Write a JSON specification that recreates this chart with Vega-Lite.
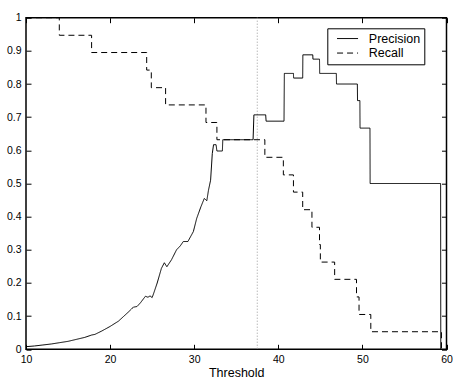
{
  "$schema": "https://vega.github.io/schema/vega-lite/v6.json",
  "width": 420.5,
  "height": 331.6,
  "autosize": {"type": "none"},
  "padding": {"left": 26, "top": 17.7, "right": 6.5, "bottom": 31.7},
  "background": "white",
  "config": {
    "view": {"stroke": "black", "strokeWidth": 1.5},
    "font": "Liberation Sans",
    "axis": {"grid": false, "domain": false, "tickColor": "black", "labelColor": "black", "titleColor": "black", "tickSize": -5, "tickWidth": 1}
  },
  "datasets": {
    "curves": [
      {"series": "Precision", "i": 0, "threshold": 10, "value": 0.008},
      {"series": "Precision", "i": 1, "threshold": 11, "value": 0.010},
      {"series": "Precision", "i": 2, "threshold": 12, "value": 0.013},
      {"series": "Precision", "i": 3, "threshold": 13, "value": 0.016},
      {"series": "Precision", "i": 4, "threshold": 14, "value": 0.020},
      {"series": "Precision", "i": 5, "threshold": 15, "value": 0.024},
      {"series": "Precision", "i": 6, "threshold": 16, "value": 0.030},
      {"series": "Precision", "i": 7, "threshold": 17, "value": 0.036},
      {"series": "Precision", "i": 8, "threshold": 17.8, "value": 0.043},
      {"series": "Precision", "i": 9, "threshold": 18.2, "value": 0.045},
      {"series": "Precision", "i": 10, "threshold": 19, "value": 0.055},
      {"series": "Precision", "i": 11, "threshold": 20, "value": 0.069},
      {"series": "Precision", "i": 12, "threshold": 21, "value": 0.085},
      {"series": "Precision", "i": 13, "threshold": 21.6, "value": 0.099},
      {"series": "Precision", "i": 14, "threshold": 22.2, "value": 0.113},
      {"series": "Precision", "i": 15, "threshold": 22.76, "value": 0.127},
      {"series": "Precision", "i": 16, "threshold": 23.2, "value": 0.129},
      {"series": "Precision", "i": 17, "threshold": 23.6, "value": 0.140},
      {"series": "Precision", "i": 18, "threshold": 24.2, "value": 0.160},
      {"series": "Precision", "i": 19, "threshold": 24.5, "value": 0.157},
      {"series": "Precision", "i": 20, "threshold": 24.75, "value": 0.161},
      {"series": "Precision", "i": 21, "threshold": 25.0, "value": 0.156},
      {"series": "Precision", "i": 22, "threshold": 25.2, "value": 0.170},
      {"series": "Precision", "i": 23, "threshold": 25.6, "value": 0.200},
      {"series": "Precision", "i": 24, "threshold": 26.1, "value": 0.244},
      {"series": "Precision", "i": 25, "threshold": 26.45, "value": 0.261},
      {"series": "Precision", "i": 26, "threshold": 26.75, "value": 0.249},
      {"series": "Precision", "i": 27, "threshold": 27.3, "value": 0.270},
      {"series": "Precision", "i": 28, "threshold": 27.9, "value": 0.300},
      {"series": "Precision", "i": 29, "threshold": 28.35, "value": 0.312},
      {"series": "Precision", "i": 30, "threshold": 28.7, "value": 0.325},
      {"series": "Precision", "i": 31, "threshold": 29.25, "value": 0.325},
      {"series": "Precision", "i": 32, "threshold": 29.9, "value": 0.355},
      {"series": "Precision", "i": 33, "threshold": 30.3, "value": 0.395},
      {"series": "Precision", "i": 34, "threshold": 30.8, "value": 0.430},
      {"series": "Precision", "i": 35, "threshold": 31.2, "value": 0.455},
      {"series": "Precision", "i": 36, "threshold": 31.5, "value": 0.448},
      {"series": "Precision", "i": 37, "threshold": 31.7, "value": 0.480},
      {"series": "Precision", "i": 38, "threshold": 31.95, "value": 0.510},
      {"series": "Precision", "i": 39, "threshold": 32.15, "value": 0.590},
      {"series": "Precision", "i": 40, "threshold": 32.3, "value": 0.617},
      {"series": "Precision", "i": 41, "threshold": 32.6, "value": 0.617},
      {"series": "Precision", "i": 42, "threshold": 32.7, "value": 0.598},
      {"series": "Precision", "i": 43, "threshold": 33.35, "value": 0.598},
      {"series": "Precision", "i": 44, "threshold": 33.4, "value": 0.632},
      {"series": "Precision", "i": 45, "threshold": 37.0, "value": 0.632},
      {"series": "Precision", "i": 46, "threshold": 37.1, "value": 0.707},
      {"series": "Precision", "i": 47, "threshold": 38.5, "value": 0.707},
      {"series": "Precision", "i": 48, "threshold": 38.55, "value": 0.688},
      {"series": "Precision", "i": 49, "threshold": 40.68, "value": 0.688},
      {"series": "Precision", "i": 50, "threshold": 40.72, "value": 0.832},
      {"series": "Precision", "i": 51, "threshold": 41.8, "value": 0.832},
      {"series": "Precision", "i": 52, "threshold": 41.82, "value": 0.818},
      {"series": "Precision", "i": 53, "threshold": 42.9, "value": 0.818},
      {"series": "Precision", "i": 54, "threshold": 42.92, "value": 0.888},
      {"series": "Precision", "i": 55, "threshold": 44.1, "value": 0.888},
      {"series": "Precision", "i": 56, "threshold": 44.12, "value": 0.875},
      {"series": "Precision", "i": 57, "threshold": 44.9, "value": 0.875},
      {"series": "Precision", "i": 58, "threshold": 44.92, "value": 0.832},
      {"series": "Precision", "i": 59, "threshold": 46.9, "value": 0.832},
      {"series": "Precision", "i": 60, "threshold": 46.92, "value": 0.800},
      {"series": "Precision", "i": 61, "threshold": 49.4, "value": 0.800},
      {"series": "Precision", "i": 62, "threshold": 49.42, "value": 0.750},
      {"series": "Precision", "i": 63, "threshold": 49.7, "value": 0.750},
      {"series": "Precision", "i": 64, "threshold": 49.72, "value": 0.667},
      {"series": "Precision", "i": 65, "threshold": 50.9, "value": 0.667},
      {"series": "Precision", "i": 66, "threshold": 50.92, "value": 0.500},
      {"series": "Precision", "i": 67, "threshold": 59.3, "value": 0.500},
      {"series": "Precision", "i": 68, "threshold": 59.32, "value": 0.0},
      {"series": "Recall", "i": 0, "threshold": 10, "value": 1.0},
      {"series": "Recall", "i": 1, "threshold": 13.96, "value": 1.0},
      {"series": "Recall", "i": 2, "threshold": 13.96, "value": 0.947},
      {"series": "Recall", "i": 3, "threshold": 17.8, "value": 0.947},
      {"series": "Recall", "i": 4, "threshold": 17.8, "value": 0.895},
      {"series": "Recall", "i": 5, "threshold": 24.35, "value": 0.895},
      {"series": "Recall", "i": 6, "threshold": 24.35, "value": 0.842},
      {"series": "Recall", "i": 7, "threshold": 24.9, "value": 0.842},
      {"series": "Recall", "i": 8, "threshold": 24.9, "value": 0.789},
      {"series": "Recall", "i": 9, "threshold": 26.6, "value": 0.789},
      {"series": "Recall", "i": 10, "threshold": 26.6, "value": 0.737},
      {"series": "Recall", "i": 11, "threshold": 31.4, "value": 0.737},
      {"series": "Recall", "i": 12, "threshold": 31.4, "value": 0.684},
      {"series": "Recall", "i": 13, "threshold": 32.7, "value": 0.684},
      {"series": "Recall", "i": 14, "threshold": 32.7, "value": 0.632},
      {"series": "Recall", "i": 15, "threshold": 38.4, "value": 0.632},
      {"series": "Recall", "i": 16, "threshold": 38.4, "value": 0.579},
      {"series": "Recall", "i": 17, "threshold": 40.6, "value": 0.579},
      {"series": "Recall", "i": 18, "threshold": 40.6, "value": 0.526},
      {"series": "Recall", "i": 19, "threshold": 41.8, "value": 0.526},
      {"series": "Recall", "i": 20, "threshold": 41.8, "value": 0.474},
      {"series": "Recall", "i": 21, "threshold": 42.9, "value": 0.474},
      {"series": "Recall", "i": 22, "threshold": 42.9, "value": 0.421},
      {"series": "Recall", "i": 23, "threshold": 44.0, "value": 0.421},
      {"series": "Recall", "i": 24, "threshold": 44.0, "value": 0.368},
      {"series": "Recall", "i": 25, "threshold": 44.9, "value": 0.368},
      {"series": "Recall", "i": 26, "threshold": 44.9, "value": 0.316},
      {"series": "Recall", "i": 27, "threshold": 45.0, "value": 0.316},
      {"series": "Recall", "i": 28, "threshold": 45.0, "value": 0.263},
      {"series": "Recall", "i": 29, "threshold": 46.7, "value": 0.263},
      {"series": "Recall", "i": 30, "threshold": 46.7, "value": 0.211},
      {"series": "Recall", "i": 31, "threshold": 49.3, "value": 0.211},
      {"series": "Recall", "i": 32, "threshold": 49.3, "value": 0.158},
      {"series": "Recall", "i": 33, "threshold": 49.6, "value": 0.158},
      {"series": "Recall", "i": 34, "threshold": 49.6, "value": 0.105},
      {"series": "Recall", "i": 35, "threshold": 51.0, "value": 0.105},
      {"series": "Recall", "i": 36, "threshold": 51.0, "value": 0.053},
      {"series": "Recall", "i": 37, "threshold": 59.4, "value": 0.053},
      {"series": "Recall", "i": 38, "threshold": 59.4, "value": 0.0}
    ],
    "cut": [{"threshold": 37.5}]
  },
  "layer": [
    {
      "data": {"name": "cut"},
      "mark": {"type": "rule", "color": "#9a9a9a", "strokeWidth": 1, "strokeDash": [1, 2]},
      "encoding": {
        "x": {"field": "threshold", "type": "quantitative", "scale": {"domain": [10, 60], "nice": false, "zero": false}, "axis": null}
      }
    },
    {
      "data": {"name": "curves"},
      "mark": {"type": "line", "color": "black", "strokeWidth": 1, "clip": true},
      "encoding": {
        "x": {"field": "threshold", "type": "quantitative", "scale": {"domain": [10, 60], "nice": false, "zero": false},
              "axis": {"orient": "bottom", "values": [10, 20, 30, 40, 50, 60], "title": "Threshold", "titleFontSize": 12.5, "titleFontWeight": "normal", "titlePadding": 2, "labelFontSize": 10.5, "labelPadding": 10, "labelFlush": false}},
        "y": {"field": "value", "type": "quantitative", "scale": {"domain": [0, 1], "nice": false},
              "axis": {"orient": "left", "values": [0, 0.1, 0.2, 0.3, 0.4, 0.5, 0.6, 0.7, 0.8, 0.9, 1], "format": ".1~f", "title": null, "labelFontSize": 10.5, "labelPadding": 10, "labelFlush": false}},
        "detail": {"field": "series"},
        "order": {"field": "i", "type": "quantitative"},
        "strokeDash": {"field": "series", "type": "nominal",
          "scale": {"domain": ["Precision", "Recall"], "range": [[1, 0], [6, 4]]},
          "legend": {"title": null, "orient": "none", "legendX": 301.3, "legendY": 10.6,
            "symbolType": "M-3,0H3", "symbolSize": 49, "symbolStrokeColor": "black", "symbolStrokeWidth": 1,
            "symbolOffset": 10, "labelOffset": 15, "labelFontSize": 12.5, "labelColor": "black",
            "strokeColor": "black", "fillColor": "white", "padding": 4, "rowPadding": 1.5}}
      }
    },
    {
      "data": {"name": "curves"},
      "mark": {"type": "line", "opacity": 0},
      "encoding": {
        "x": {"field": "threshold", "type": "quantitative", "scale": {"domain": [10, 60], "nice": false, "zero": false},
              "axis": {"orient": "top", "values": [10, 20, 30, 40, 50, 60], "labels": false, "title": null}},
        "y": {"field": "value", "type": "quantitative", "scale": {"domain": [0, 1], "nice": false},
              "axis": {"orient": "right", "values": [0, 0.1, 0.2, 0.3, 0.4, 0.5, 0.6, 0.7, 0.8, 0.9, 1], "labels": false, "title": null}},
        "detail": {"field": "series"}
      }
    }
  ],
  "resolve": {"axis": {"x": "independent", "y": "independent"}}
}
